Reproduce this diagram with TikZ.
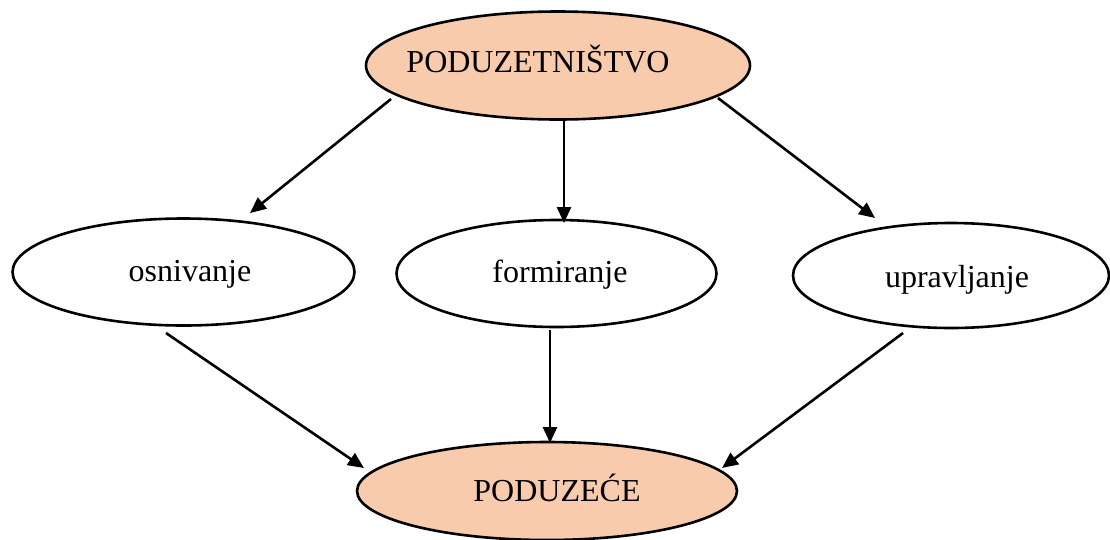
\documentclass[tikz,border=0pt]{standalone}
\usepackage{fontspec}
\setmainfont{Liberation Serif}
\usetikzlibrary{shapes.geometric,arrows.meta}
\definecolor{peach}{HTML}{F8CBAD}
\begin{document}
\begin{tikzpicture}[x=1pt,y=-1pt,
  ell/.style={draw=black,line width=2.6pt,ellipse,inner sep=0pt},
  lbl/.style={inner sep=0pt,font=\fontsize{32}{36}\selectfont,anchor=base},
  arr/.style={line width=2.6pt,-{Triangle[length=16pt,width=14pt]}}]
\useasboundingbox (0,0) rectangle (1110,539);
% ellipses
\node[ell,fill=peach,minimum width=384pt,minimum height=108pt] (top) at (558,65.5) {};
\node[ell,fill=white,minimum width=342pt,minimum height=107pt] (osn) at (183.5,272) {};
\node[ell,fill=white,minimum width=320pt,minimum height=107pt] (form) at (556.5,273.5) {};
\node[ell,fill=white,minimum width=316pt,minimum height=105pt] (upr) at (951,275.5) {};
\node[ell,fill=peach,minimum width=380pt,minimum height=98pt] (bot) at (547,491) {};
% labels
\node[lbl] (ttop) at (538,72) {PODUZETNIŠTVO};
\node[lbl] (tosn) at (190,281) {osnivanje};
\node[lbl] (tform) at (560,282) {formiranje};
\node[lbl] (tupr) at (957,287) {upravljanje};
\node[lbl] (tbot) at (557,501) {PODUZEĆE};
% arrow ends
\coordinate (a1s) at (391,99);  \coordinate (a1e) at (250,213);
\coordinate (a2s) at (564,121); \coordinate (a2e) at (564,223);
\coordinate (a3s) at (718,98);  \coordinate (a3e) at (875,218);
\coordinate (a4s) at (166,333); \coordinate (a4e) at (364,468);
\coordinate (a5s) at (550,330); \coordinate (a5e) at (550,443);
\coordinate (a6s) at (903,333); \coordinate (a6e) at (722,468);
\draw[arr] (a1s) -- (a1e);
\draw[arr] (a2s) -- (a2e);
\draw[arr] (a3s) -- (a3e);
\draw[arr] (a4s) -- (a4e);
\draw[arr] (a5s) -- (a5e);
\draw[arr] (a6s) -- (a6e);
\end{tikzpicture}
\end{document}
